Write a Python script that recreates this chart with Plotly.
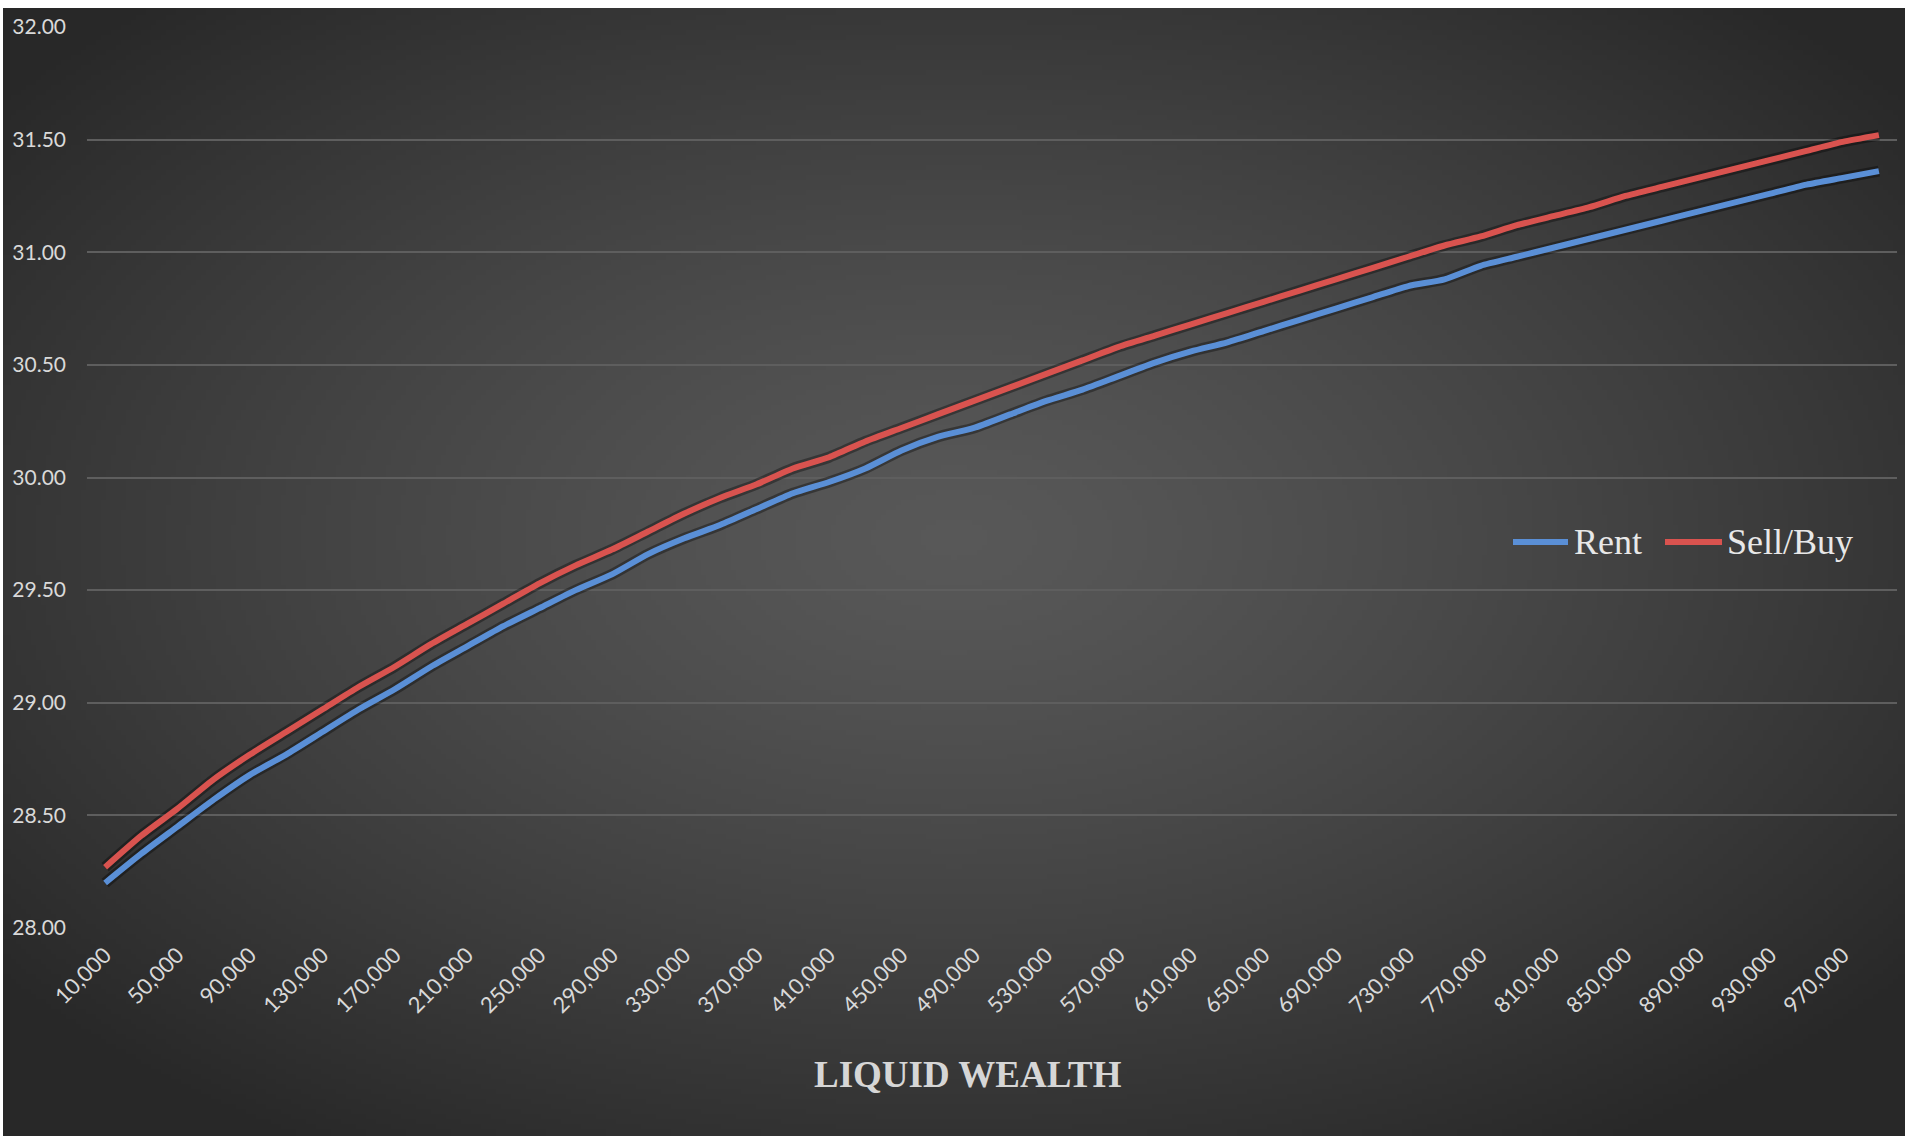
import base64
import struct
import zlib

import numpy as np
import plotly.graph_objects as go

# Liquid wealth categories (10,000 to 990,000 in steps of 20,000)
wealth = list(range(10000, 1000000, 20000))

rent = [
    28.20, 28.33, 28.45, 28.57, 28.68, 28.77, 28.87, 28.97, 29.06, 29.16,
    29.25, 29.34, 29.42, 29.50, 29.57, 29.66, 29.73, 29.79, 29.86, 29.93,
    29.98, 30.04, 30.12, 30.18, 30.22, 30.28, 30.34, 30.39, 30.45, 30.51,
    30.56, 30.60, 30.65, 30.70, 30.75, 30.80, 30.85, 30.88, 30.94, 30.98,
    31.02, 31.06, 31.10, 31.14, 31.18, 31.22, 31.26, 31.30, 31.33, 31.36,
]

sell_buy = [
    28.27, 28.41, 28.53, 28.66, 28.77, 28.87, 28.97, 29.07, 29.16, 29.26,
    29.35, 29.44, 29.53, 29.61, 29.68, 29.76, 29.84, 29.91, 29.97, 30.04,
    30.09, 30.16, 30.22, 30.28, 30.34, 30.40, 30.46, 30.52, 30.58, 30.63,
    30.68, 30.73, 30.78, 30.83, 30.88, 30.93, 30.98, 31.03, 31.07, 31.12,
    31.16, 31.20, 31.25, 31.29, 31.33, 31.37, 31.41, 31.45, 31.49, 31.52,
]

series_names = ["Rent", "Sell/Buy"]
x_tick_vals = wealth[::2]
x_tick_text = [f"{v:,}" for v in x_tick_vals]
y_tick_vals = [28.0, 28.5, 29.0, 29.5, 30.0, 30.5, 31.0, 31.5, 32.0]
y_tick_text = [f"{v:.2f}" for v in y_tick_vals]
x_title = "LIQUID WEALTH"

W_PAGE, H_PAGE = 1905, 1136
M_L, M_R, M_T, M_B = 87, 8, 27, 208
PLOT_W = W_PAGE - M_L - M_R
PLOT_H = H_PAGE - M_T - M_B


def px_x(p):
    """Page pixel column -> paper x."""
    return (p - M_L) / PLOT_W


def px_y(p):
    """Page pixel row (from top) -> paper y."""
    return (H_PAGE - M_B - p) / PLOT_H


def radial_png(w, h, inner, outer):
    """Build a small PNG with an elliptical radial gradient, as a data URI."""
    yy, xx = np.mgrid[0:h, 0:w]
    dx = (xx / (w - 1) - 0.5) / 0.64
    dy = (yy / (h - 1) - 0.47) / 0.64
    d = np.clip(np.sqrt(dx * dx + dy * dy), 0, 1) ** 1.3
    rgb = np.empty((h, w, 3), dtype=np.uint8)
    for c in range(3):
        rgb[..., c] = (inner[c] + (outer[c] - inner[c]) * d).round().astype(np.uint8)
    raw = b"".join(b"\x00" + rgb[r].tobytes() for r in range(h))

    def chunk(tag, data):
        body = tag + data
        return struct.pack(">I", len(data)) + body + struct.pack(">I", zlib.crc32(body) & 0xFFFFFFFF)

    png = (b"\x89PNG\r\n\x1a\n"
           + chunk(b"IHDR", struct.pack(">IIBBBBB", w, h, 8, 2, 0, 0, 0))
           + chunk(b"IDAT", zlib.compress(raw, 9))
           + chunk(b"IEND", b""))
    return "data:image/png;base64," + base64.b64encode(png).decode()


bg_uri = radial_png(380, 226, (88, 88, 88), (40, 40, 40))

BLUE = "#5a8fd6"
RED = "#d9534f"
colors = [BLUE, RED]

fig = go.Figure()

# soft shadows under the series lines
for series in (rent, sell_buy):
    fig.add_trace(go.Scatter(
        x=wealth, y=series, mode="lines", showlegend=False, hoverinfo="skip",
        line=dict(color="rgba(0,0,0,0.35)", width=11, shape="spline", smoothing=0.6),
    ))

for name, series, col in zip(series_names, (rent, sell_buy), colors):
    fig.add_trace(go.Scatter(
        x=wealth, y=series, mode="lines", name=name, showlegend=False,
        line=dict(color=col, width=6, shape="spline", smoothing=0.6),
    ))

# legend drawn as swatch lines + labels
legend_rows = 542
legend_items = [(1513, 1568, 1572), (1665, 1722, 1725)]
shapes = []
annotations = []
for (x0, x1, xt), name, col in zip(legend_items, series_names, colors):
    shapes.append(dict(
        type="line", xref="paper", yref="paper",
        x0=px_x(x0), x1=px_x(x1), y0=px_y(legend_rows), y1=px_y(legend_rows),
        line=dict(color=col, width=6),
    ))
    annotations.append(dict(
        text=name, xref="paper", yref="paper", x=px_x(xt), y=px_y(legend_rows),
        xanchor="left", yanchor="middle", showarrow=False,
        font=dict(family="Liberation Serif", size=36, color="#e8e8e8"),
    ))

# axis title
annotations.append(dict(
    text=x_title, xref="paper", yref="paper", x=px_x(968), y=px_y(1074),
    xanchor="center", yanchor="middle", showarrow=False,
    font=dict(family="Liberation Serif", size=37, color="#d6d6d6", weight="bold"),
))

fig.update_layout(
    width=W_PAGE,
    height=H_PAGE,
    margin=dict(l=M_L, r=M_R, t=M_T, b=M_B, pad=0),
    paper_bgcolor="white",
    plot_bgcolor="rgba(0,0,0,0)",
    images=[dict(
        source=bg_uri, xref="paper", yref="paper",
        x=px_x(3), y=px_y(8),
        sizex=(W_PAGE - 3) / PLOT_W, sizey=(H_PAGE - 8) / PLOT_H,
        xanchor="left", yanchor="top", sizing="stretch", layer="below",
    )],
    shapes=shapes,
    annotations=annotations,
    xaxis=dict(
        range=[0, 1000000],
        tickmode="array", tickvals=x_tick_vals, ticktext=x_tick_text,
        tickangle=-45, showgrid=False, zeroline=False, showline=False,
        ticks="", ticklabelstandoff=9,
        tickfont=dict(family="Lato", size=22, color="#d9d9d9"),
    ),
    yaxis=dict(
        range=[28, 32],
        tickmode="array", tickvals=y_tick_vals, ticktext=y_tick_text,
        showgrid=True, gridcolor="#5e5e5e", gridwidth=1.5,
        zeroline=False, showline=False, ticks="", ticklabelstandoff=20,
        tickfont=dict(family="Lato", size=21, color="#d9d9d9"),
    ),
    showlegend=False,
)

fig.write_html("out.html")
